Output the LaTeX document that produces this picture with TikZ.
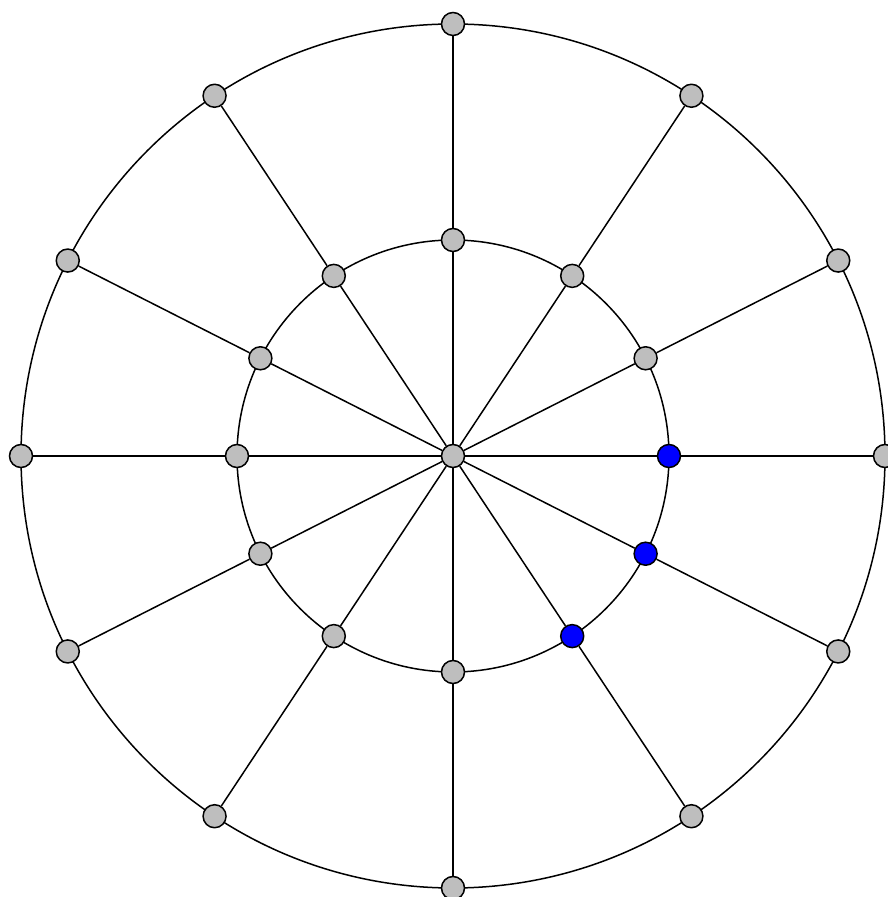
\documentclass[tikz,border=0pt]{standalone}
\usetikzlibrary{calc}
\begin{document}
\begin{tikzpicture}[x=1pt,y=1pt,
  vtx/.style={circle,draw=black,line width=1.5pt,fill={rgb,255:red,190;green,190;blue,190},minimum size=23pt,inner sep=0pt},
  bvtx/.style={vtx,fill={rgb,255:red,0;green,0;blue,255}},
  edge/.style={line width=1.5pt,draw=black}]
\useasboundingbox (0,0) rectangle (887,897);
\coordinate (O) at (453,441);
\draw[edge] (O) circle (216);
\draw[edge] (O) circle (432);
\node[vtx] (c) at (O) {};
\foreach \a/\n/\t in {0/0/bvtx,26.9/1/vtx,56.5/2/vtx,90/3/vtx,123.5/4/vtx,153.1/5/vtx,180/6/vtx,206.9/7/vtx,236.5/8/vtx,270/9/vtx,303.5/10/bvtx,333.1/11/bvtx}{
  \node[\t] (i\n) at ($(O)+(\a:216)$) {};
  \node[vtx] (o\n) at ($(O)+(\a:432)$) {};
  \draw[edge] (c) -- (i\n);
  \draw[edge] (i\n) -- (o\n);
}
\end{tikzpicture}
\end{document}
